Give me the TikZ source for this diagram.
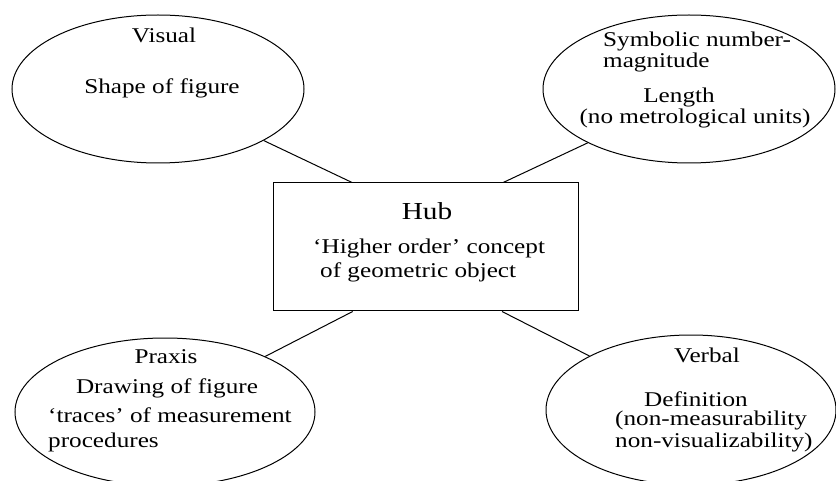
\documentclass[tikz,border=0pt]{standalone}
\usepackage{fontspec}
\setmainfont[FakeStretch=1.2]{Liberation Serif}
\usepackage{tikz}
\usetikzlibrary{shapes.geometric}
\usetikzlibrary{calc}
\usetikzlibrary{positioning}
\tikzset{>=stealth}
\tikzset{
  facet/.style={draw,ellipse,line width=1pt,inner sep=0pt},
  hubbox/.style={draw,rectangle,line width=1pt,minimum width=305pt,minimum height=128pt},
  txt/.style={inner sep=0pt,font=\fontsize{21}{24}\selectfont},
  hubtxt/.style={inner sep=0pt,font=\fontsize{24.4}{28}\selectfont}
}

\begin{document}
\begin{tikzpicture}[x=1pt,y=1pt]
\useasboundingbox (0,0) rectangle (836,480);
% the five parts
\node[facet,minimum width=292pt,minimum height=148pt] (vis) at (158,391) {};
\node[facet,minimum width=292pt,minimum height=148pt] (sym) at (689,391) {};
\node[hubbox] (hub) at (425.5,233) {};
\node[facet,minimum width=300pt,minimum height=148pt] (prax) at (165,68) {};
\node[facet,minimum width=290pt,minimum height=150pt] (verb) at (691,70) {};
% texts
\node[txt,anchor=base] (vis-a) at (164,437) {Visual};
\node[txt,anchor=base] (vis-b) at (162,386) {Shape of figure};
\node[txt,anchor=base west] (sym-a) at (603,433) {Symbolic number-};
\node[txt,anchor=base west] (sym-b) at (603,412) {magnitude};
\node[txt,anchor=base] (sym-c) at (679,377) {Length};
\node[txt,anchor=base] (sym-d) at (695,356) {(no metrological units)};
\node[hubtxt,anchor=base] (hub-a) at (427,260) {Hub};
\node[txt,anchor=base west] (hub-b) at (313,226) {‘Higher order’ concept};
\node[txt,anchor=base west] (hub-c) at (320,202) {of geometric object};
\node[txt,anchor=base] (prax-a) at (166,117) {Praxis};
\node[txt,anchor=base] (prax-b) at (167,87) {Drawing of figure};
\node[txt,anchor=base west] (prax-c) at (48,58) {‘traces’ of measurement};
\node[txt,anchor=base west] (prax-d) at (48,33) {procedures};
\node[txt,anchor=base] (verb-a) at (707,118) {Verbal};
\node[txt,anchor=base] (verb-b) at (696,74) {Definition};
\node[txt,anchor=base west] (verb-c) at (615,55) {(non-measurability};
\node[txt,anchor=base west] (verb-d) at (615,33) {non-visualizability)};
% links to the hub
\draw[line width=1pt] (vis.-26) -- ($(hub.north west)!0.26!(hub.north east)$);
\draw[line width=1pt] (sym.208) -- ($(hub.north west)!0.754!(hub.north east)$);
\draw[line width=1pt] (prax.29) -- ($(hub.south west)!0.262!(hub.south east)$);
\draw[line width=1pt] (verb.152) -- ($(hub.south west)!0.75!(hub.south east)$);
\end{tikzpicture}
\end{document}
